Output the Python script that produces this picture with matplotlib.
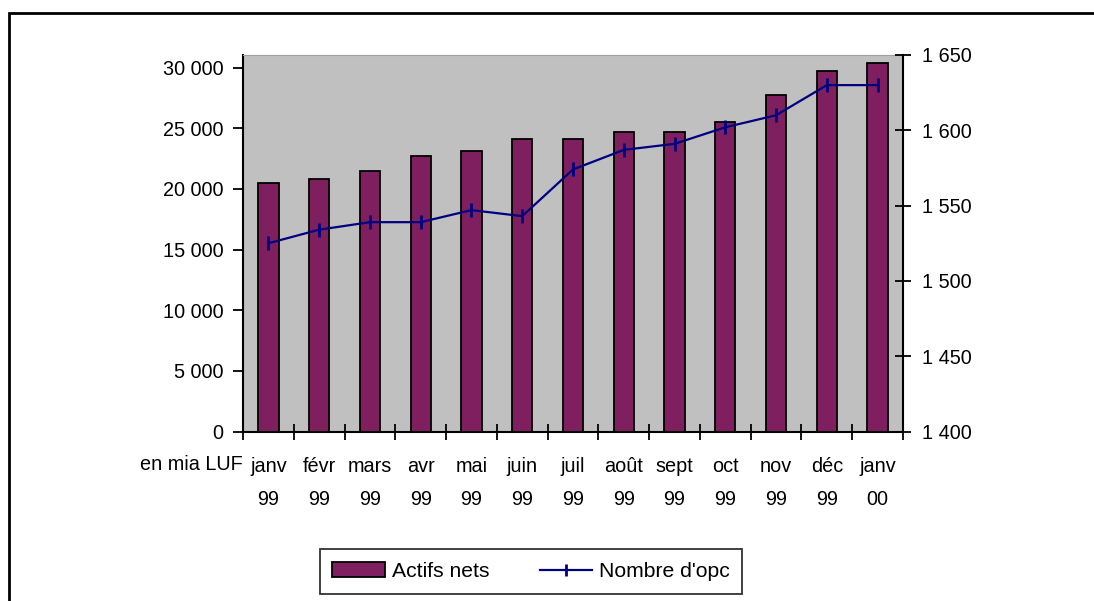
import numpy as np
import matplotlib.pyplot as plt
from matplotlib.patches import Rectangle
from matplotlib.lines import Line2D
from matplotlib.ticker import FuncFormatter

plt.rcParams['font.family'] = ['Liberation Sans', 'DejaVu Sans']

# =========================
# DATA
# =========================

months = ["janv", "févr", "mars", "avr", "mai", "juin", "juil",
          "août", "sept", "oct", "nov", "déc", "janv"]
years = ["99", "99", "99", "99", "99", "99", "99",
         "99", "99", "99", "99", "99", "00"]

actifs_nets = [20470, 20800, 21480, 22720, 23130, 24090, 24090,
               24720, 24720, 25550, 27750, 29730, 30360]
nombre_opc = [1525, 1534, 1539, 1539, 1547, 1543, 1574,
              1587, 1591, 1602, 1610, 1630, 1630]

BAR_COLOR = "#801f60"
LINE_COLOR = "#000080"
BG = "#c0c0c0"
FS = 14.3

def fmt_space(v, pos):
    return f"{int(round(v)):,}".replace(",", " ")

# =========================
# FIGURE
# =========================

fig = plt.figure(figsize=(10.94, 6.01), dpi=100)
W, H = 1094, 601

# outer chart frame (cut off on right and bottom)
fig.patches.append(Rectangle((9 / W, -0.05), 1.1, 1 - 13 / H + 0.05,
                             transform=fig.transFigure, fill=False,
                             edgecolor="black", linewidth=2))

ax = fig.add_axes([243 / W, 1 - 431.5 / H, 660 / W, (431.5 - 55) / H])
ax.set_facecolor(BG)

x = np.arange(len(months))
ax.bar(x, actifs_nets, width=0.4, color=BAR_COLOR, edgecolor="black",
       linewidth=1.3, zorder=2)
ax.set_xlim(-0.5, len(months) - 0.5)
ax.set_ylim(0, 31050)
ax.set_yticks(np.arange(0, 30001, 5000))
ax.yaxis.set_major_formatter(FuncFormatter(fmt_space))

# x ticks at category boundaries, labels at centres
ax.set_xticks(np.arange(-0.5, len(months)), labels=[])
ax.set_xticks(x, labels=[f"{m}\n{y}" for m, y in zip(months, years)], minor=True)
ax.tick_params(axis="x", which="major", direction="inout", length=12, width=1.3)
ax.tick_params(axis="x", which="minor", length=0, pad=18, labelsize=FS)
for lbl in ax.get_xticklabels(minor=True):
    lbl.set_linespacing(1.95)
ax.tick_params(axis="y", direction="out", length=7, width=1.3, pad=7, labelsize=FS)

for side in ["left", "bottom"]:
    ax.spines[side].set_linewidth(1.5)
ax.spines["top"].set_color("#a0a0a0")
ax.spines["right"].set_visible(False)

ax2 = ax.twinx()
ax2.plot(x, nombre_opc, color=LINE_COLOR, linewidth=1.6, marker="|",
         markersize=9.5, markeredgewidth=2, zorder=3)
ax2.set_ylim(1400, 1650)
ax2.set_yticks(np.arange(1400, 1651, 50))
ax2.yaxis.set_major_formatter(FuncFormatter(fmt_space))
ax2.tick_params(axis="y", direction="inout", length=12, width=1.3, pad=8, labelsize=FS)
ax2.spines["right"].set_linewidth(1.5)
for side in ["left", "top", "bottom"]:
    ax2.spines[side].set_visible(False)

fig.text(243 / W, 1 - 464 / H, "en mia LUF", ha="right", va="center", fontsize=FS)

# =========================
# LEGEND
# =========================

handles = [Rectangle((0, 0), 1, 1, facecolor=BAR_COLOR, edgecolor="black", linewidth=1.3),
           Line2D([], [], color=LINE_COLOR, linewidth=1.6, marker="|",
                  markersize=9, markeredgewidth=2)]
leg = fig.legend(handles, ["Actifs nets", "Nombre d'opc"], ncol=2,
                 loc="center", bbox_to_anchor=(531 / W, 1 - 571.5 / H),
                 frameon=True, fancybox=False, fontsize=15.2,
                 handlelength=2.5, handletextpad=0.3, columnspacing=2.4,
                 borderpad=0.6, borderaxespad=0)
leg.get_frame().set_edgecolor("black")
leg.get_frame().set_linewidth(1.3)

fig.savefig("out.png", dpi=100)
